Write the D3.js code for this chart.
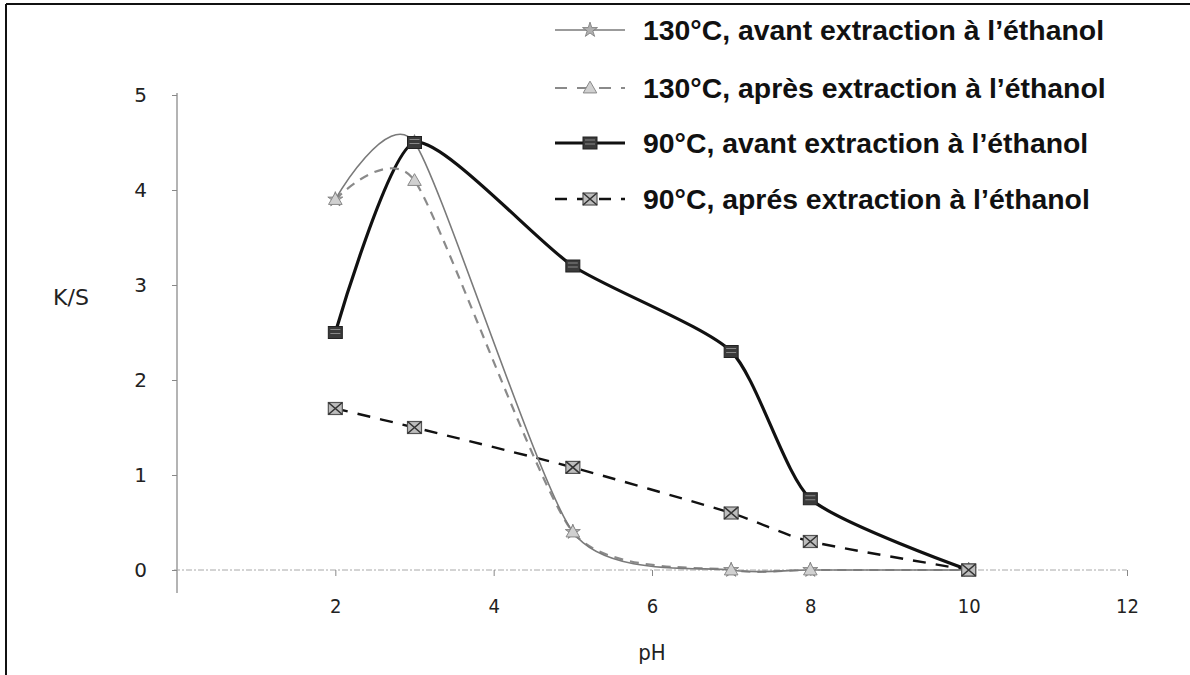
<!DOCTYPE html>
<html><head><meta charset="utf-8">
<script src="https://cdn.jsdelivr.net/npm/d3@7"></script>
<style>body{margin:0;background:#fff}svg{display:block}</style>
</head><body>
<svg id="c" width="1190" height="675"></svg>
<script>
// ---- data ----
const pH = [2, 3, 5, 7, 8, 10];
const ks130avant = [3.9, 4.5, 0.4, 0, 0, 0];
const ks130apres = [3.9, 4.1, 0.4, 0, 0, 0];
const ks90avant  = [2.5, 4.5, 3.2, 2.3, 0.75, 0];
const ks90apres  = [1.7, 1.5, 1.08, 0.6, 0.3, 0];
const seriesNames = [
  "130°C, avant extraction à l’éthanol",
  "130°C, après extraction à l’éthanol",
  "90°C, avant extraction à l’éthanol",
  "90°C, aprés extraction à l’éthanol"
];
const xTicks = [2, 4, 6, 8, 10, 12];
const yTicks = [0, 1, 2, 3, 4, 5];
const xTitle = "pH", yTitle = "K/S";

// ---- styles ----
const styles = [
  {stroke:"#7a7a7a", width:1.6, dash:null, marker:"star"},
  {stroke:"#8a8a8a", width:2.2, dash:"9,7", marker:"tri"},
  {stroke:"#111", width:3.2, dash:null, marker:"sq"},
  {stroke:"#111", width:2.4, dash:"13,10", marker:"sqx"}
];
const allSeries = [ks130avant, ks130apres, ks90avant, ks90apres];

const svg = d3.select("#c");
const x = d3.scaleLinear().domain([0, 12]).range([177, 1127]);
const y = d3.scaleLinear().domain([0, 5]).range([570, 95]);

// frame
svg.append("line").attr("x1",6).attr("x2",6).attr("y1",4).attr("y2",675).attr("stroke","#111").attr("stroke-width",2);
svg.append("line").attr("x1",6).attr("x2",1190).attr("y1",4).attr("y2",4).attr("stroke","#111").attr("stroke-width",2);

// axes lines
svg.append("line").attr("x1",x(0)).attr("x2",x(0)).attr("y1",y(5)-2).attr("y2",593).attr("stroke","#8c8c8c").attr("stroke-width",1.3);
svg.append("line").attr("x1",x(0)-3).attr("x2",x(12)).attr("y1",y(0)).attr("y2",y(0)).attr("stroke","#a8a8a8").attr("stroke-width",1).attr("stroke-dasharray","6,2,2,2");

const xa = svg.append("g").attr("transform",`translate(0,${y(0)})`)
  .call(d3.axisBottom(x).tickValues(xTicks).tickSize(6).tickPadding(23).tickFormat(d3.format("d")));
xa.select(".domain").remove();
xa.selectAll("line").attr("stroke","#888");
xa.selectAll("text").attr("font-family","DejaVu Sans Condensed, DejaVu Sans").attr("font-size",20).attr("fill","#222");

const ya = svg.append("g").attr("transform",`translate(${x(0)},0)`)
  .call(d3.axisLeft(y).tickValues(yTicks).tickSize(5).tickPadding(25).tickFormat(d3.format("d")));
ya.select(".domain").remove();
ya.selectAll("line").attr("stroke","#888");
ya.selectAll("text").attr("font-family","DejaVu Sans, Verdana").attr("font-size",20).attr("fill","#222");

svg.append("text").attr("x",71).attr("y",305).attr("text-anchor","middle")
  .attr("font-family","DejaVu Sans, Verdana").attr("font-size",22).attr("fill","#222").text(yTitle);
svg.append("text").attr("x",x(6)).attr("y",660).attr("text-anchor","middle")
  .attr("font-family","DejaVu Sans Condensed, DejaVu Sans").attr("font-size",22).attr("fill","#222").text(xTitle);

// markers
function drawMarker(g, type, cx, cy) {
  if (type === "star") {
    g.append("path").attr("d", d3.symbol(d3.symbolStar, 70)())
      .attr("transform",`translate(${cx},${cy})`).attr("fill","#b0b0b0").attr("stroke","#777").attr("stroke-width",0.8);
  } else if (type === "tri") {
    g.append("path").attr("d", d3.symbol(d3.symbolTriangle, 80)())
      .attr("transform",`translate(${cx},${cy+1})`).attr("fill","#d0d0d0").attr("stroke","#888").attr("stroke-width",1);
  } else if (type === "sq") {
    g.append("rect").attr("x",cx-7).attr("y",cy-6).attr("width",14).attr("height",12)
      .attr("fill","#3a3a3a").attr("stroke","#222").attr("stroke-width",1);
    g.append("path").attr("d",`M${cx-5},${cy-3}h10M${cx-5},${cy+1}h10`).attr("stroke","#888").attr("stroke-width",1);
  } else {
    g.append("rect").attr("x",cx-7).attr("y",cy-6).attr("width",14).attr("height",12)
      .attr("fill","#bdbdbd").attr("stroke","#555").attr("stroke-width",1.2);
    g.append("path").attr("d",`M${cx-7},${cy-6}L${cx+7},${cy+6}M${cx+7},${cy-6}L${cx-7},${cy+6}`)
      .attr("stroke","#333").attr("stroke-width",1.6);
  }
}

const line = d3.line().x(d => x(d[0])).y(d => y(d[1])).curve(d3.curveCardinal.tension(0.35));
const order = [3, 2, 1, 0];
order.forEach(i => {
  const st = styles[i];
  const pts = pH.map((p, k) => [p, allSeries[i][k]]);
  svg.append("path").datum(pts).attr("d", line).attr("fill","none")
    .attr("stroke", st.stroke).attr("stroke-width", st.width)
    .attr("stroke-dasharray", st.dash).attr("stroke-linejoin","round");
});
[0, 1, 2, 3].forEach(i => {
  const g = svg.append("g");
  pH.forEach((p, k) => drawMarker(g, styles[i].marker, x(p), y(allSeries[i][k])));
});

// legend
const legY = [30, 88, 143, 199];
seriesNames.forEach((name, i) => {
  const st = styles[i];
  const g = svg.append("g");
  g.append("line").attr("x1",555).attr("x2",625).attr("y1",legY[i]).attr("y2",legY[i])
    .attr("stroke",st.stroke).attr("stroke-width",st.width).attr("stroke-dasharray", st.dash ? "12,10" : null);
  drawMarker(g, st.marker, 590, legY[i]);
  g.append("text").attr("x",643).attr("y",legY[i]+10).attr("font-family","Liberation Sans, Arial")
    .attr("font-weight","bold").attr("font-size",28.4).attr("fill","#111").text(name);
});
</script>
</body></html>
